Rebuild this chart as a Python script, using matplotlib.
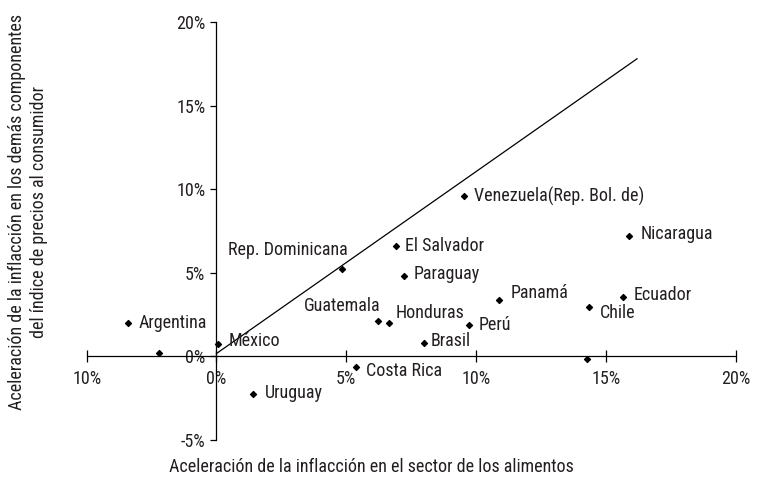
import matplotlib
matplotlib.use("Agg")
import matplotlib.pyplot as plt

plt.rcParams["font.family"] = ["Roboto Condensed", "DejaVu Sans"]

# aceleración de la inflación (puntos porcentuales)
countries = ["Argentina", "", "México", "Uruguay", "Costa Rica", "Guatemala",
             "Honduras", "Brasil", "Perú", "Chile", "", "Rep. Dominicana",
             "El Salvador", "Paraguay", "Venezuela(Rep. Bol. de)", "Nicaragua",
             "Panamá", "Ecuador"]
food = [-3.42, -2.22, 0.06, 1.41, 5.38, 6.22, 6.64, 7.98, 9.74, 14.33, 14.29,
        4.85, 6.92, 7.22, 9.55, 15.90, 10.90, 15.67]
other = [1.98, 0.20, 0.72, -2.29, -0.64, 2.11, 1.99, 0.80, 1.86, 2.95, -0.18,
         5.19, 6.60, 4.79, 9.58, 7.20, 3.35, 3.55]

# linea de referencia
line_x = [0.0, 16.2]
line_y = [0.15, 17.8]

xticks = [-5, 0, 5, 10, 15, 20]
xtick_labels = ["10%", "0%", "5%", "10%", "15%", "20%"]
yticks = [-5, 0, 5, 10, 15, 20]
ytick_labels = ["-5%", "0%", "5%", "10%", "15%", "20%"]

# label offsets in pixels (dx, dy, ha)
label_pos = {
    "Argentina": (11, 0, "left"),
    "México": (11, 3, "left"),
    "Uruguay": (12, 1, "left"),
    "Costa Rica": (10, -4, "left"),
    "Guatemala": (3, 15, "right"),
    "Honduras": (7, 10, "left"),
    "Brasil": (7, 2, "left"),
    "Perú": (9, 0, "left"),
    "Chile": (11, -6, "left"),
    "Rep. Dominicana": (5, 19, "right"),
    "El Salvador": (9, 0, "left"),
    "Paraguay": (10, 2, "left"),
    "Venezuela(Rep. Bol. de)": (10, 0, "left"),
    "Nicaragua": (11, 2, "left"),
    "Panamá": (11, 7, "left"),
    "Ecuador": (10, 2, "left"),
}

TXT = "#231f20"
FS = 13

fig = plt.figure(figsize=(7.59, 4.87), dpi=100)
ax = fig.add_axes([0.1142, 0.0975, 0.8551, 0.8573])

ax.plot(line_x, line_y, color="black", lw=0.9)
ax.scatter(food, other, marker="D", s=9, color="black", zorder=3)

for name, x, y in zip(countries, food, other):
    if not name:
        continue
    dx, dy, ha = label_pos[name]
    ax.annotate(name, (x, y), xytext=(dx, dy), textcoords="offset pixels",
                ha=ha, va="center", fontsize=FS, color=TXT)

ax.set_xlim(-5, 20)
ax.set_ylim(-5, 20)
ax.spines["left"].set_position(("data", 0))
ax.spines["bottom"].set_position(("data", 0))
ax.spines["top"].set_visible(False)
ax.spines["right"].set_visible(False)
for s in ("left", "bottom"):
    ax.spines[s].set_linewidth(0.9)
    ax.spines[s].set_color("black")

ax.set_xticks(xticks)
ax.set_xticklabels(xtick_labels)
ax.set_yticks(yticks)
ax.set_yticklabels(ytick_labels)
ax.tick_params(axis="x", direction="inout", length=8, width=0.9,
               pad=6, labelsize=FS, labelcolor=TXT)
ax.tick_params(axis="y", direction="out", length=4, width=0.9,
               pad=4, labelsize=FS, labelcolor=TXT)
ax.patch.set_visible(False)

fig.text(0.489, 0.041, "Aceleración de la inflacción en el sector de los alimentos",
         ha="center", va="center", fontsize=FS, color=TXT)
fig.text(0.037, 0.565,
         "Aceleración de la inflacción en los demás componentes\n"
         "del índice de precios al consumidor",
         ha="center", va="center", rotation=90, fontsize=FS, color=TXT,
         linespacing=1.25)

fig.savefig("out.png", dpi=100)
